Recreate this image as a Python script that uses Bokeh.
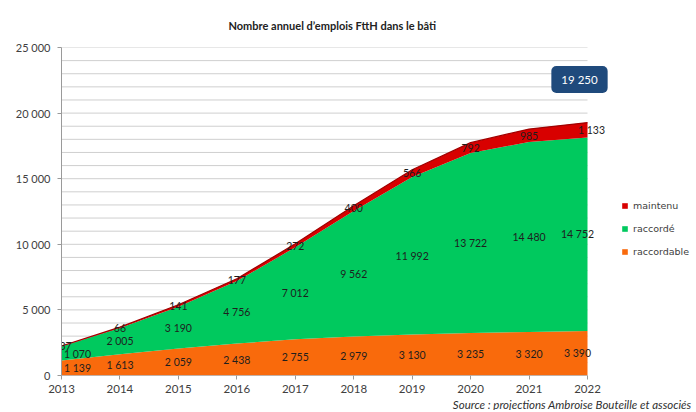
from bokeh.plotting import figure
from bokeh.models import ColumnDataSource, FixedTicker, Label, Legend, LegendItem, Range1d, Title
from bokeh.core.properties import value
from bokeh.embed import file_html
from bokeh.resources import INLINE

# ---- data ----
years = [2013, 2014, 2015, 2016, 2017, 2018, 2019, 2020, 2021, 2022]
raccordable = [1139, 1613, 2059, 2438, 2755, 2979, 3130, 3235, 3320, 3390]
raccorde = [1070, 2005, 3190, 4756, 7012, 9562, 11992, 13722, 14480, 14752]
maintenu = [37, 66, 141, 177, 272, 400, 566, 792, 985, 1133]
series_names = ["maintenu", "raccordé", "raccordable"]
y_ticks = [0, 5000, 10000, 15000, 20000, 25000]
y_tick_labels = ["0", "5 000", "10 000", "15 000", "20 000", "25 000"]
grid_step = 1000
total_label = "19 250"
title_text = "Nombre annuel d’emplois FttH dans le bâti"
source_text = "Source : projections Ambroise Bouteille et associés"

FONT = "Lato"
C_ORANGE = "#F96A0C"
C_GREEN = "#00C95E"
C_RED = "#D80000"
C_AXIS = "#9a9a9a"

def fr(v):
    return f"{v:,}".replace(",", " ")

# ---- layout ----
W, H = 694, 410
LEFT, TOP = 61, 46
DATA_W, DATA_H = 526, 330          # pixel span of years / y range
RIGHT = 1
BOTTOM = H - TOP - DATA_H
FRAME_W = W - LEFT - RIGHT
px_per_year = DATA_W / (years[-1] - years[0])
x_end = years[0] + FRAME_W / px_per_year

src = ColumnDataSource(dict(year=years, raccordable=raccordable,
                            raccorde=raccorde, maintenu=maintenu))

p = figure(width=W, height=H, output_backend="svg", toolbar_location=None,
           x_range=Range1d(years[0], x_end), y_range=Range1d(y_ticks[0], y_ticks[-1]),
           min_border_left=LEFT, min_border_right=RIGHT, min_border_top=TOP,
           min_border_bottom=BOTTOM)
p.title = Title(text=title_text, align="left", offset=167,
                text_font=FONT, text_font_size="11px", text_font_style="bold",
                text_color="#222222", standoff=32)
p.background_fill_color = "white"
p.border_fill_color = "white"
p.outline_line_color = None

# horizontal gridlines spanning the category range only
gy = list(range(y_ticks[0], y_ticks[-1] + 1, grid_step))
p.segment(x0=[years[0]] * len(gy), x1=[years[-1]] * len(gy), y0=gy, y1=gy,
          line_color="#cfcfcf", line_width=1)

rs = p.varea_stack(["raccordable", "raccorde", "maintenu"], x="year",
                   color=[C_ORANGE, C_GREEN, C_RED], source=src)

tops = [a + b + c for a, b, c in zip(raccordable, raccorde, maintenu)]
p.line(years, tops, line_color="#A00000", line_width=1.2)

# baseline of x axis over the category range
p.line([years[0], years[-1]], [y_ticks[0], y_ticks[0]], line_color=C_AXIS, line_width=1)

# axes
p.xaxis.ticker = FixedTicker(ticks=years)
p.yaxis.ticker = FixedTicker(ticks=y_ticks)
p.yaxis.major_label_overrides = dict(zip(y_ticks, y_tick_labels))
for ax in (p.xaxis[0], p.yaxis[0]):
    ax.axis_line_color = C_AXIS
    ax.major_tick_line_color = C_AXIS
    ax.minor_tick_line_color = None
    ax.major_tick_out = 4
    ax.major_tick_in = 0
    ax.major_label_text_font = FONT
    ax.major_label_text_color = "#404040"
p.xaxis.axis_line_color = None
p.xaxis.major_label_text_font_size = "11.5px"
p.xaxis.major_label_standoff = 5
p.yaxis.major_label_text_font_size = "11px"
p.yaxis.major_label_standoff = 7
p.xgrid.visible = False
p.ygrid.visible = False

# data labels
n = len(years)
lx, ly, lt, lo = [], [], [], []
for i in range(n):
    a, b, c = raccordable[i], raccorde[i], maintenu[i]
    edge = 16 if i == 0 else (-10 if i == n - 1 else 0)
    lx += [years[i]] * 3
    ly += [a / 2, a + b / 2, a + b + c / 2]
    lt += [fr(a), fr(b), fr(c)]
    lo += [edge, edge, (4 if i == 0 else (4 if i == n - 1 else 0))]
lab = ColumnDataSource(dict(x=lx, y=ly, text=lt, xo=lo))
p.text(x="x", y="y", text="text", x_offset="xo", source=lab,
       text_font=value(FONT), text_font_size="10.5px", text_align="center",
       text_baseline="middle", text_color="#1e1e1e")

# legend
legend = Legend(items=[LegendItem(label=series_names[0], renderers=[rs[2]]),
                       LegendItem(label=series_names[1], renderers=[rs[1]]),
                       LegendItem(label=series_names[2], renderers=[rs[0]])],
                location=(560, 118), orientation="vertical")
legend.glyph_width = 7
legend.glyph_height = 7
legend.label_height = 11
legend.spacing = 12
legend.padding = 0
legend.margin = 0
legend.label_standoff = 5
legend.border_line_color = None
legend.background_fill_alpha = 0
legend.label_text_font = "DejaVu Sans"
legend.label_text_font_size = "9.5px"
legend.label_text_color = "#404040"
p.add_layout(legend, "center")

# total box
p.add_layout(Label(x=518, y=296, x_units="screen", y_units="screen", text=total_label,
                   text_font=FONT, text_font_size="11.5px", text_color="white",
                   text_align="center", text_baseline="middle",
                   background_fill_color="#1F4A7C", border_radius=5,
                   padding=(10, 7)))

# source
p.add_layout(Title(text=source_text, align="right", text_font=FONT,
                   text_font_size="11.5px", text_font_style="italic",
                   text_color="#303030", standoff=0, offset=2), "below")

open("out.html", "w").write(file_html(p, INLINE))
